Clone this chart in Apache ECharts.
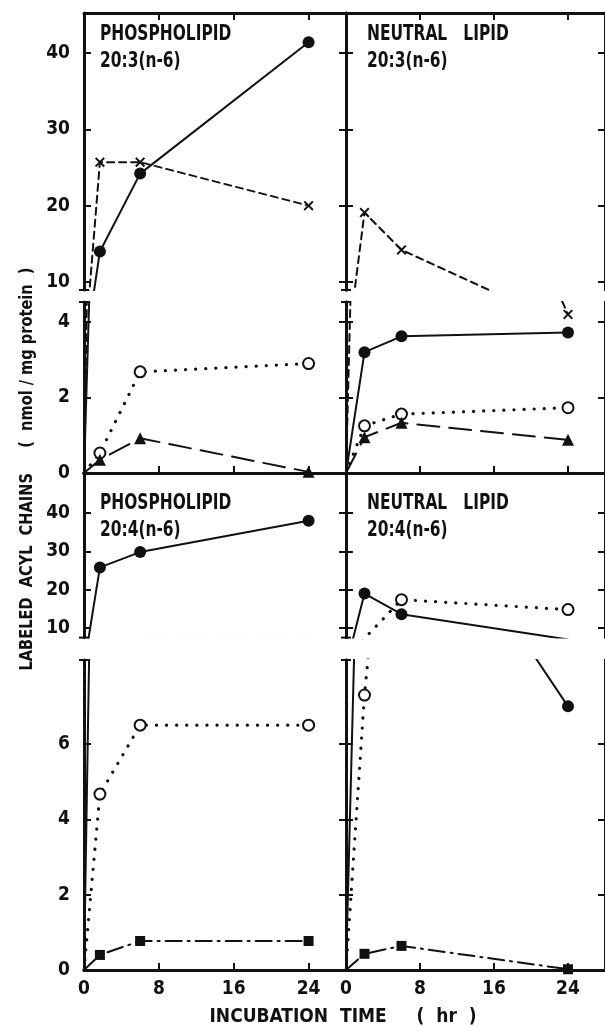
<!DOCTYPE html>
<html>
<head>
<meta charset="utf-8">
<script src="https://cdn.jsdelivr.net/npm/echarts@6/dist/echarts.min.js"></script>
<style>
  html, body { margin: 0; padding: 0; background: #fff; }
  #chart { width: 605px; height: 1027px; }
</style>
</head>
<body>
<div id="chart"></div>
<script>
// values (nmol / mg protein vs hours)
const hoursPL = [0, 1.7, 6, 24]
const hoursNL = [0, 2, 6, 24]

const pl203Filled = [0, 14, 24.2, 41.4]
const pl203Cross = [0, 25.7, 25.7, 20]
const pl203Open = [0, 0.53, 2.68, 2.9]
const pl203Tri = [0, 0.35, 0.92, 0.03]

const nl203Filled = [0, 3.2, 3.62, 3.72]
const nl203Cross = [0, 19.1, 14.2, 4.2]
const nl203Open = [0, 1.25, 1.56, 1.73]
const nl203Tri = [0, 0.95, 1.33, 0.88]

const pl204Filled = [0, 25.8, 29.8, 38]
const pl204Open = [0, 4.67, 6.5, 6.5]
const pl204Square = [0, 0.4, 0.77, 0.77]

const nl204Filled = [0, 19, 13.6, 7.0]
const nl204Open = [0, 7.3, 17.4, 14.8]
const nl204Square = [0, 0.43, 0.64, 0.02]

const xLabels = [0, 8, 16, 24]
const xTicks = [8, 16, 24]
const upperTicks = [10, 20, 30, 40]
const topLowerTicks = [0, 2, 4]
const bottomLowerTicks = [0, 2, 4, 6]

const FONT = "'Liberation Sans Narrow', 'DejaVu Sans Condensed', 'Liberation Sans', sans-serif"
const INK = '#111'

// each panel is split in an upper and a lower grid (broken y axis)
const cols = [{ left: 84, width: 262 }, { left: 346, width: 266 }]
const rows = [
  { top: 13, height: 277, min: 8.95, max: 45.24, ticks: upperTicks },
  { top: 302, height: 171, min: 0, max: 4.53, ticks: topLowerTicks },
  { top: 473, height: 164.6, min: 7.5, max: 50.43, ticks: upperTicks },
  { top: 660, height: 310, min: 0, max: 8.23, ticks: bottomLowerTicks }
]

const X_PATH = 'path://M0,1.4L1.4,0L5,3.6L8.6,0L10,1.4L6.4,5L10,8.6L8.6,10L5,6.4L1.4,10L0,8.6L3.6,5Z'

const markStyles = {
  filled: { symbol: 'circle', symbolSize: 12, lineType: 'solid', lineWidth: 2 },
  cross: { symbol: X_PATH, symbolSize: 10, lineType: [7, 5], lineWidth: 2 },
  open: { symbol: 'emptyCircle', symbolSize: 11, lineType: [0.1, 10], lineWidth: 3.2 },
  tri: { symbol: 'triangle', symbolSize: 12, lineType: [22, 10], lineWidth: 2 },
  square: { symbol: 'rect', symbolSize: 10, lineType: [16, 6, 2, 6], lineWidth: 2 }
}

const panels = [
  { half: 0, col: 0, title: 'PHOSPHOLIPID\n20:3(n-6)',
    lines: [[hoursPL, pl203Filled, 'filled'], [hoursPL, pl203Cross, 'cross'], [hoursPL, pl203Open, 'open'], [hoursPL, pl203Tri, 'tri']] },
  { half: 0, col: 1, title: 'NEUTRAL   LIPID\n20:3(n-6)',
    lines: [[hoursNL, nl203Filled, 'filled'], [hoursNL, nl203Cross, 'cross'], [hoursNL, nl203Open, 'open'], [hoursNL, nl203Tri, 'tri']] },
  { half: 1, col: 0, title: 'PHOSPHOLIPID\n20:4(n-6)',
    lines: [[hoursPL, pl204Filled, 'filled'], [hoursPL, pl204Open, 'open'], [hoursPL, pl204Square, 'square']] },
  { half: 1, col: 1, title: 'NEUTRAL   LIPID\n20:4(n-6)',
    lines: [[hoursNL, nl204Filled, 'filled'], [hoursNL, nl204Open, 'open'], [hoursNL, nl204Square, 'square']] }
]

const grid = []
const xAxis = []
const yAxis = []
rows.forEach((row, r) => {
  cols.forEach((col, c) => {
    grid.push({ left: col.left, width: col.width, top: row.top, height: row.height })
    const gi = grid.length - 1
    const upper = r % 2 === 0
    xAxis.push({
      type: 'value', gridIndex: gi, min: 0, max: 28,
      position: upper ? 'top' : 'bottom',
      axisLine: { show: true, onZero: false, lineStyle: { color: INK, width: 3 } },
      axisTick: { show: r !== 2, inside: true, length: 7, customValues: xTicks, lineStyle: { color: INK, width: 2 } },
      axisLabel: {
        show: r === 3, customValues: xLabels, margin: 10,
        color: INK, fontFamily: FONT, fontWeight: 'bold', fontSize: 19
      },
      splitLine: { show: false }
    })
    const yBase = {
      type: 'value', gridIndex: gi, min: row.min, max: row.max,
      axisLine: { show: true, onZero: false, lineStyle: { color: INK, width: 3 } },
      axisTick: { show: true, inside: true, length: 7, customValues: row.ticks.filter(v => v > 0), lineStyle: { color: INK, width: 2 } },
      splitLine: { show: false }
    }
    yAxis.push(Object.assign({}, yBase, {
      position: 'left',
      axisLabel: {
        show: c === 0, customValues: row.ticks, margin: 14,
        color: INK, fontFamily: FONT, fontWeight: 'bold', fontSize: 19
      }
    }))
    yAxis.push(Object.assign({}, yBase, { position: 'right', axisLabel: { show: false } }))
  })
})

const series = []
panels.forEach(p => {
  [2 * p.half, 2 * p.half + 1].forEach(r => {
    const gi = r * 2 + p.col
    p.lines.forEach(([xs, ys, kind]) => {
      const st = markStyles[kind]
      series.push({
        type: 'line', xAxisIndex: gi, yAxisIndex: gi * 2,
        clip: true, animation: false, silent: true,
        symbol: st.symbol, symbolSize: st.symbolSize,
        showAllSymbol: true,
        itemStyle: { color: INK, borderColor: INK, borderWidth: kind === 'open' ? 1.8 : 0 },
        lineStyle: { color: INK, width: st.lineWidth, type: st.lineType, cap: 'round' },
        data: xs.map((x, i) => (i === 0 ? { value: [x, ys[i]], symbol: 'none' } : [x, ys[i]]))
      })
    })
  })
})

// panel captions, squeezed to look like the condensed type of the figure
const titleLeft = [100, 367]
const titleTop = [21, 490]
const graphic = panels.map(p => ({
  type: 'text', x: titleLeft[p.col], y: titleTop[p.half], scaleX: 0.78,
  style: { text: p.title, fill: INK, font: 'bold 22px ' + FONT, lineHeight: 27 }
}))

// small caps where the y axes are broken
const breaks = [[rows[0], rows[1]], [rows[2], rows[3]]]
breaks.forEach(([up, low]) => {
  [cols[0].left, cols[1].left].forEach(ax => {
    [up.top + up.height, low.top].forEach(y => {
      graphic.push({
        type: 'line', shape: { x1: ax - 5, y1: y, x2: ax + 5, y2: y },
        style: { stroke: INK, lineWidth: 2 }
      })
    })
  })
})

graphic.push(
  {
    type: 'text', x: 27, y: 469, rotation: Math.PI / 2, scaleX: 0.9,
    style: {
      text: 'LABELED  ACYL  CHAINS     (  nmol / mg protein  )',
      fill: INK, font: 'bold 18px ' + FONT, align: 'center', verticalAlign: 'middle'
    }
  },
  {
    type: 'text', x: 343, y: 1017,
    style: {
      text: 'INCUBATION  TIME     (  hr  )',
      fill: INK, font: 'bold 19px ' + FONT, align: 'center', verticalAlign: 'middle'
    }
  }
)

const chart = echarts.init(document.getElementById('chart'), null, { renderer: 'canvas' })
chart.setOption({
  backgroundColor: '#fff',
  animation: false,
  grid,
  xAxis,
  yAxis,
  series,
  graphic
})
</script>
</body>
</html>
